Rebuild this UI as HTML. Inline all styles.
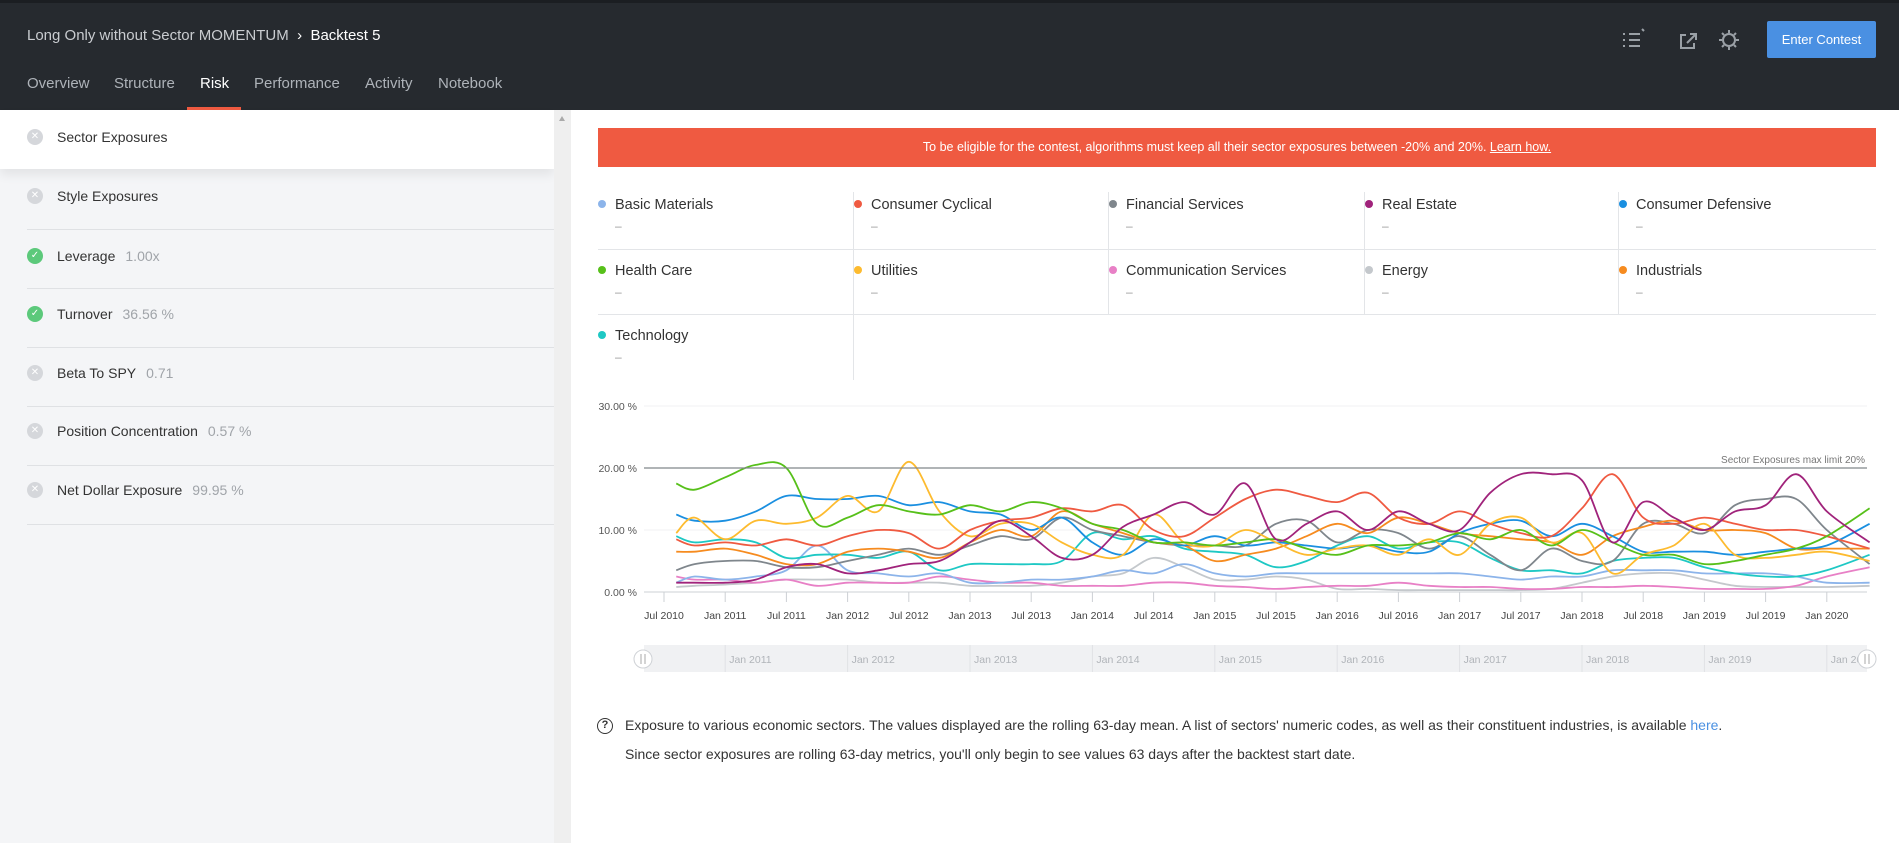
<!DOCTYPE html>
<html><head><meta charset="utf-8">
<style>
*{box-sizing:border-box;margin:0;padding:0}
body{width:1899px;height:843px;overflow:hidden;font-family:"Liberation Sans",sans-serif;background:#fff;position:relative}
.abs{position:absolute}
#header{left:0;top:0;width:1899px;height:110px;background:#262a2f;border-top:3px solid #1b1e22}
#title{left:27px;top:24px;font-size:15px;color:#c9ccd0}
#title b{color:#fff;font-weight:normal}
.tab{top:72px;font-size:15px;color:#aeb3b9}
.tab.active{color:#fff}
#tab-underline{left:187px;top:104px;width:54px;height:3px;background:#ef5a41}
#enter-btn{left:1767px;top:18px;width:109px;height:37px;background:#4a90e2;border-radius:2px;color:#fff;font-size:13px;text-align:center;line-height:37px}
#sidebar{left:0;top:110px;width:554px;height:733px;background:#f4f5f7}
#scrollbar{left:554px;top:110px;width:17px;height:733px;background:#efefef}
.item{left:0;width:554px;font-size:14px;color:#333}
.item .ic{position:absolute;left:27px;width:16px;height:16px;border-radius:50%;color:#fff;font-size:10px;text-align:center;line-height:16px}
.item .lbl{position:absolute;left:57px}
.item .val{color:#a0a4a9;margin-left:10px}
.div{left:27px;width:527px;height:1px;background:#dfe1e4}
#banner{left:598px;top:128px;width:1278px;height:39px;background:#ef5a41;color:#fff;font-size:12.5px;text-align:center;line-height:39px}
.lg{font-size:14.5px;color:#333}
.lg .dot{position:absolute;left:0;top:3px;width:8px;height:8px;border-radius:50%}
.lg .nm{position:absolute;left:17px;top:0;white-space:nowrap}
.lg .ds{position:absolute;left:17px;top:22px;color:#999;font-size:12px}
#foot{left:606px;top:711px;font-size:14px;color:#333;line-height:29px}
</style></head><body>
<div id="header" class="abs">
  <div id="title" class="abs">Long Only without Sector MOMENTUM &nbsp;<span style="color:#fff">›</span>&nbsp; <b>Backtest 5</b></div>
  <div class="abs tab" style="left:27px">Overview</div>
  <div class="abs tab" style="left:114px">Structure</div>
  <div class="abs tab active" style="left:200px">Risk</div>
  <div class="abs tab" style="left:254px">Performance</div>
  <div class="abs tab" style="left:365px">Activity</div>
  <div class="abs tab" style="left:438px">Notebook</div>
  <div id="tab-underline" class="abs"></div>
  <svg class="abs" style="left:1620px;top:24px" width="130" height="26">
    <g stroke="#9aa0a6" stroke-width="2" fill="none">
      <path d="M3 7h2M9 7h11M3 13h2M9 13h11M3 19h2M9 19h11"/>
      <path d="M22 2l2 2"/>
      <path d="M66 8h-5v13h13v-5M67 16l9-9M70 7h6v6"/>
      <circle cx="109" cy="13" r="6"/>
      <path d="M109 3v3M109 20v3M99 13h3M116 13h3M102 6l2 2M114 18l2 2M102 20l2-2M114 8l2-2"/>
    </g>
  </svg>
  <div id="enter-btn" class="abs">Enter Contest</div>
</div>

<div id="sidebar" class="abs">
  <div class="abs" style="left:0;top:0;width:554px;height:59px;background:#fff;box-shadow:0 6px 10px rgba(0,0,0,0.07)"></div>
</div>
<div class="abs item" style="top:129px"><span class="ic" style="background:#d5d7db">✕</span><span class="lbl">Sector Exposures</span></div>
<div class="abs item" style="top:188px"><span class="ic" style="background:#d5d7db">✕</span><span class="lbl">Style Exposures</span></div>
<div class="abs div" style="top:229px"></div>
<div class="abs item" style="top:248px"><span class="ic" style="background:#5cc97b">✓</span><span class="lbl">Leverage<span class="val">1.00x</span></span></div>
<div class="abs div" style="top:288px"></div>
<div class="abs item" style="top:306px"><span class="ic" style="background:#5cc97b">✓</span><span class="lbl">Turnover<span class="val">36.56 %</span></span></div>
<div class="abs div" style="top:347px"></div>
<div class="abs item" style="top:365px"><span class="ic" style="background:#d5d7db">✕</span><span class="lbl">Beta To SPY<span class="val">0.71</span></span></div>
<div class="abs div" style="top:406px"></div>
<div class="abs item" style="top:423px"><span class="ic" style="background:#d5d7db">✕</span><span class="lbl">Position Concentration<span class="val">0.57 %</span></span></div>
<div class="abs div" style="top:465px"></div>
<div class="abs item" style="top:482px"><span class="ic" style="background:#d5d7db">✕</span><span class="lbl">Net Dollar Exposure<span class="val">99.95 %</span></span></div>
<div class="abs div" style="top:524px"></div>
<div id="scrollbar" class="abs"><div style="position:absolute;left:5px;top:6px;width:0;height:0;border-left:3px solid transparent;border-right:3px solid transparent;border-bottom:5px solid #aaa"></div></div>

<div id="banner" class="abs">To be eligible for the contest, algorithms must keep all their sector exposures between -20% and 20%. <u>Learn how.</u></div>

<div id="legend" class="abs" style="left:0;top:0"></div>

<svg id="chart" class="abs" style="left:571px;top:380px" width="1328" height="300"></svg>

<div id="foot" class="abs">
  <span style="position:absolute;left:-9px;top:7px;width:16px;height:16px;border:1.5px solid #333;border-radius:50%;font-size:11px;line-height:13px;text-align:center;font-weight:bold">?</span>
  <div style="padding-left:19px;white-space:nowrap">Exposure to various economic sectors. The values displayed are the rolling 63-day mean. A list of sectors' numeric codes, as well as their constituent industries, is available <span style="color:#4a90e2">here</span>.</div>
  <div style="padding-left:19px;white-space:nowrap">Since sector exposures are rolling 63-day metrics, you'll only begin to see values 63 days after the backtest start date.</div>
</div>

<script>
const sectorNames=["Basic Materials","Consumer Cyclical","Financial Services","Real Estate","Consumer Defensive","Health Care","Utilities","Communication Services","Energy","Industrials","Technology"];
const sectorColors=["#8cb4ea","#ef5a41","#7f868c","#a0237b","#1a8fe0","#57c01a","#fdbb2f","#e880c6","#c4c8cc","#f68b1f","#1ec8c4"];
const dates=[2010.6,2010.75,2011.0,2011.25,2011.5,2011.75,2012.0,2012.25,2012.5,2012.75,2013.0,2013.25,2013.5,2013.75,2014.0,2014.25,2014.5,2014.75,2015.0,2015.25,2015.5,2015.75,2016.0,2016.25,2016.5,2016.75,2017.0,2017.25,2017.5,2017.75,2018.0,2018.25,2018.5,2018.75,2019.0,2019.25,2019.5,2019.75,2020.0,2020.35];
const basicMaterials=[1.5,2.5,2,2.5,3.5,7.5,3.5,3,2.5,3,1.5,1.5,2,2,2.5,3.5,3,4.5,3,2.5,3,3,3,3,3,3,3,2.5,2,2.5,2.5,3.5,3.5,3.5,3,3,3,2.5,1.5,1.5];
const consumerCyclical=[8.5,7.5,8,7.5,8.5,7.5,9,10,9.5,7,10,11.5,12,13.5,13,14,10,9,12,15,16.5,15.5,14.5,16,12,11,13,11,9.5,9,13.5,19,12,11,12,11,10,10,9,7];
const financialServices=[3.5,4.5,5,5,4,4,5,6,7,6,7.5,9,8.5,12,10,9,8,7.5,7.5,7.5,11,11.5,8,10,9.5,7,9,6,3.5,7,5,5,11,11,9.5,14,15,15,10,4.5];
const realEstate=[1.5,1.5,1.5,2,4,4.5,3,3.5,4.5,5,8,11.5,9,5.5,6,10.5,12.5,14.5,12.5,17.5,8.5,11,13,10,13,11,10,16,19,19,18,8,14.5,12,10,13,14,19,13,8];
const consumerDefensive=[12.5,11.5,11.5,13,15.5,15,15,15.5,14,14.5,13,12.5,10,12,8,6,8.5,7.5,9,7.5,8,7.5,7,7.5,6.5,6.5,9.5,11,11.5,9,11,9,6.5,6.5,6.5,6,6.5,7,7.5,11];
const healthCare=[17.5,16.5,18.5,20.5,20,11,12,14,13,12.5,14,13,14.5,13.5,11,10,8,8,7.5,8,8.5,7,6,7.5,7.5,8,9.5,8.5,10,7.5,10,8,6,6,4.5,5,6,7,9,13.5];
const utilities=[9.5,12,8.5,11.5,11,12,15.5,13,21,13,9,11,11,8,6,6,12.5,8,7.5,10,8,6,7,7.5,6,8.5,6,11,12,8,9.5,3,6,7.5,11,6,5.5,6,6.5,5];
const communication=[2.5,2,2,1.5,2,1,1.5,1.5,1.5,2.5,2,1.5,1.5,1,1,1,1.5,1.5,1,0.8,0.5,0.8,1,1,1.5,1,0.8,0.8,0.5,0.5,0.8,0.8,1,0.8,0.5,0.5,0.5,1,2.5,4];
const energy=[0.8,1,1.2,1.5,2,2,2,1.5,1.5,1.5,1,1,1,1.5,2.5,3,5.5,4,2,2,2.5,2,0.5,0.5,0.3,0.3,0.3,0.3,0.3,0.5,1.5,2.5,3,3,2,1,0.8,0.8,0.8,1];
const industrials=[6.5,6.5,7,6,4.5,4.5,6.5,7,6.5,5.5,8,10,9,13,11,9.5,8,7.5,5,6,7,9,11,9.5,12,11,9.5,9,8.5,8,6,9,10.5,11.5,10,10,9.5,7,7,7];
const technology=[9,8,8.5,8,5.5,6,6,5.5,6.5,3.5,4.5,4.5,4.5,5,9.5,8.5,9,7,6.5,6,4,5,7.5,9,7,8,8,5.5,3.5,3.5,3,5,5.5,5.5,4,3,2.5,2.5,3.5,6];
const seriesValues=[basicMaterials,consumerCyclical,financialServices,realEstate,consumerDefensive,healthCare,utilities,communication,energy,industrials,technology];
const yTicks=[0,10,20,30];
const xTickLabels=["Jul 2010","Jan 2011","Jul 2011","Jan 2012","Jul 2012","Jan 2013","Jul 2013","Jan 2014","Jul 2014","Jan 2015","Jul 2015","Jan 2016","Jul 2016","Jan 2017","Jul 2017","Jan 2018","Jul 2018","Jan 2019","Jul 2019","Jan 2020"];
const xTickDates=[2010.5,2011,2011.5,2012,2012.5,2013,2013.5,2014,2014.5,2015,2015.5,2016,2016.5,2017,2017.5,2018,2018.5,2019,2019.5,2020];
const navYears=[2011,2012,2013,2014,2015,2016,2017,2018,2019,2020];
const limitValue=20;

const NS="http://www.w3.org/2000/svg";
const leg=document.getElementById('legend');
const colX=[598,854,1109,1365,1619], rowY=[197,263,328];
sectorNames.forEach((n,i)=>{
  const d=document.createElement('div');
  d.className='abs lg';
  d.style.left=colX[i%5]+'px';d.style.top=rowY[Math.floor(i/5)]+'px';
  d.innerHTML='<span class="dot" style="background:'+sectorColors[i]+'"></span><span class="nm">'+n+'</span><span class="ds">–</span>';
  
  
  leg.appendChild(d);
});
[[598,249,1278,1],[598,314,1278,1]].forEach(r=>{
  const l=document.createElement('div');l.className='abs';
  l.style.cssText='left:'+r[0]+'px;top:'+r[1]+'px;width:'+r[2]+'px;height:1px;background:#e3e5e8';
  
  
  leg.appendChild(l);
});
[[854,192,57],[1109,192,57],[1365,192,57],[1619,192,57],[854,249,65],[1109,249,65],[1365,249,65],[1619,249,65],[854,314,66]].forEach(r=>{
  const l=document.createElement('div');l.className='abs';
  l.style.cssText='left:'+(r[0]-1)+'px;top:'+r[1]+'px;width:1px;height:'+r[2]+'px;background:#e3e5e8';
  
  
  leg.appendChild(l);
});

const svg=document.getElementById('chart');
const OX=571,OY=380;
const x0=644-OX, x1=1867-OX;
function X(t){return 664-OX+(t-2010.5)*122.4;}
function Y(v){return 592-OY-v*6.2;}
function el(tag,attrs,parent){const e=document.createElementNS(NS,tag);for(const k in attrs)e.setAttribute(k,attrs[k]);(parent||svg).appendChild(e);return e;}
yTicks.forEach(v=>{
  const g=el('line',{x1:x0,x2:x1,y1:Y(v),y2:Y(v),stroke:v===0?'#ccd0d4':'#f0f1f3','stroke-width':1});
  
  
  const t=el('text',{x:637-OX,y:Y(v)+4,'text-anchor':'end','font-size':10.5,fill:'#555','font-family':'Liberation Sans, sans-serif'});
  t.textContent=v.toFixed(2)+' %';
  
  
});
xTickDates.forEach((d,i)=>{
  const tk=el('line',{x1:X(d),x2:X(d),y1:Y(0),y2:Y(0)+10,stroke:'#ccd0d4'});
  
  
  const t=el('text',{x:X(d),y:Y(0)+27,'text-anchor':'middle','font-size':10.5,fill:'#444','font-family':'Liberation Sans, sans-serif'});
  t.textContent=xTickLabels[i];
  
  
});
function smooth(pts){
  let d='M'+pts[0][0]+' '+pts[0][1];
  for(let i=0;i<pts.length-1;i++){
    const p0=pts[i-1]||pts[i],p1=pts[i],p2=pts[i+1],p3=pts[i+2]||p2;
    const c1x=p1[0]+(p2[0]-p0[0])/6,c1y=p1[1]+(p2[1]-p0[1])/6;
    const c2x=p2[0]-(p3[0]-p1[0])/6,c2y=p2[1]-(p3[1]-p1[1])/6;
    d+=' C'+c1x.toFixed(1)+' '+c1y.toFixed(1)+' '+c2x.toFixed(1)+' '+c2y.toFixed(1)+' '+p2[0].toFixed(1)+' '+p2[1].toFixed(1);
  }
  return d;
}
const drawOrder=[8,7,0,10,2,9,4,6,1,5,3];
drawOrder.forEach(i=>{
  const pts=dates.map((d,j)=>[X(d),Y(seriesValues[i][j])]);
  const p=el('path',{d:smooth(pts),fill:'none',stroke:sectorColors[i],'stroke-width':1.8,'stroke-linejoin':'round'});
  
  
});
const lim=el('line',{x1:x0,x2:x1,y1:Y(limitValue),y2:Y(limitValue),stroke:'#80868b','stroke-width':1.2});


const lt=el('text',{x:x1-2,y:Y(limitValue)-5,'text-anchor':'end','font-size':10,fill:'#777','font-family':'Liberation Sans, sans-serif'});
lt.textContent='Sector Exposures max limit 20%';


const nav=el('rect',{x:x0,y:645-OY,width:x1-x0,height:27,fill:'#f0f1f3'});


navYears.forEach(yr=>{
  const l=el('line',{x1:X(yr),x2:X(yr),y1:645-OY,y2:672-OY,stroke:'#e0e2e5'});
  
  
  const t=el('text',{x:X(yr)+4,y:663-OY,'font-size':10.5,fill:'#b0b4b9','font-family':'Liberation Sans, sans-serif'});
  t.textContent='Jan '+yr;
  
  
});
[x0-1,x1].forEach(hx=>{
  const c=el('circle',{cx:hx,cy:659-OY,r:9,fill:'#fff',stroke:'#cfd2d6'});
  
  
  el('path',{d:'M'+(hx-2)+' '+(654-OY)+'v10M'+(hx+2)+' '+(654-OY)+'v10',stroke:'#aaa'});
});
</script>
</body></html>
